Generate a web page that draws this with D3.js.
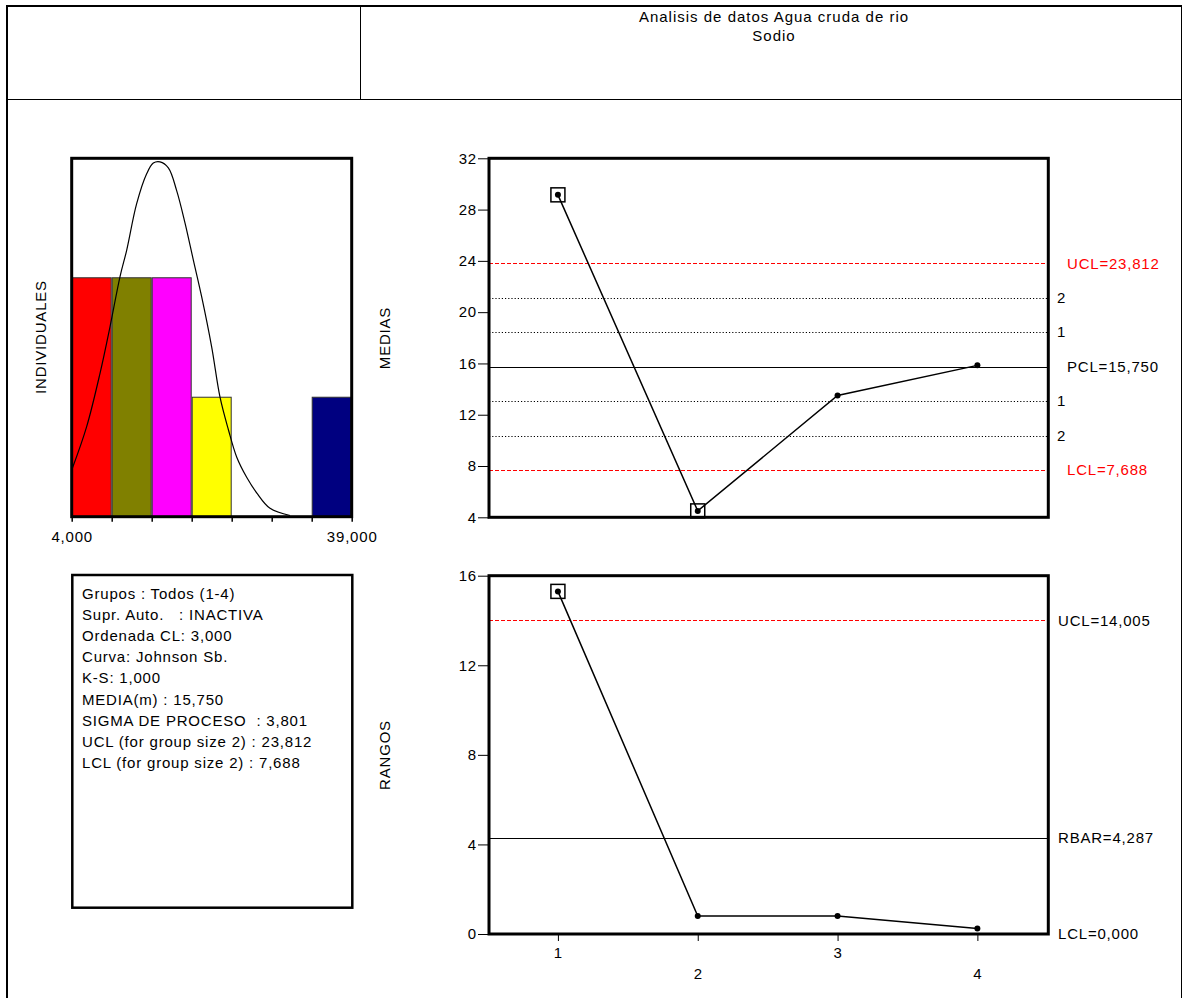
<!DOCTYPE html>
<html>
<head>
<meta charset="utf-8">
<script src="https://cdn.jsdelivr.net/npm/d3@7"></script>
<style>
  body { margin: 0; background: #fff; }
  svg { display: block; font-family: "Liberation Sans", Arial, sans-serif; }
  .lbl { font-size: 15px; letter-spacing: 0.8px; }
  .tick text { font-size: 15px; letter-spacing: 0.8px; font-family: "Liberation Sans", Arial, sans-serif; fill: #000; }
</style>
</head>
<body>
<svg width="1183" height="998"></svg>
<script>
// ---- data ----
const titleLines = ["Analisis de datos Agua cruda de rio", "Sodio"];

// histogram of individuals
const binEdges = [4, 9, 14, 19, 24, 29, 34, 39];
const binCounts = [2, 2, 2, 1, 0, 0, 1];
const binColors = ["#FF0000", "#808000", "#FF00FF", "#FFFF00", "#FFFFFF", "#FFFFFF", "#000080"];
const histEdgeLabels = ["4,000", "", "", "", "", "", "", "39,000"];

// fitted Johnson Sb curve (x in units, y in counts)
const curveX = [4.08, 5.87, 7.54, 8.79, 10.04, 10.87, 12.12, 13.37, 14.2, 15.04, 16.08, 17.12, 18.16,
                19.2, 20.25, 21.5, 22.54, 23.58, 24.62, 25.87, 27.12, 28.79, 31.29];
const curveY = [0.405, 0.754, 1.20, 1.59, 2.01, 2.23, 2.62, 2.87, 2.96, 2.97, 2.92, 2.73, 2.46,
                2.15, 1.84, 1.42, 1.00, 0.73, 0.50, 0.33, 0.20, 0.07, 0.01];

// group means and ranges
const groups = [1, 2, 3, 4];
const means = [29.15, 4.5, 13.5, 15.85];
const ranges = [15.3, 0.8, 0.8, 0.25];

// xbar control lines
const xbarUCL = 23.812, xbarCL = 15.75, xbarLCL = 7.688;
const zoneValues = [21.125, 18.437, 13.063, 10.375];
const zoneLabels = ["2", "1", "1", "2"];
const xbarTicks = [4, 8, 12, 16, 20, 24, 28, 32];

// range control lines
const rUCL = 14.005, rBAR = 4.287, rLCL = 0;
const rangeTicks = [0, 4, 8, 12, 16];

const infoLines = [
  "Grupos : Todos (1-4)",
  "Supr. Auto.   : INACTIVA",
  "Ordenada CL: 3,000",
  "Curva: Johnson Sb.",
  "K-S: 1,000",
  "MEDIA(m) : 15,750",
  "SIGMA DE PROCESO  : 3,801",
  "UCL (for group size 2) : 23,812",
  "LCL (for group size 2) : 7,688"
];

const fmt = v => d3.format(".3f")(v).replace(".", ",");

const svg = d3.select("svg");

// ---- page frame ----
const frame = svg.append("g").attr("stroke", "#000").attr("fill", "none");
frame.append("line").attr("x1", 6).attr("x2", 1182).attr("y1", 6).attr("y2", 6).attr("stroke-width", 2);
frame.append("line").attr("x1", 7).attr("x2", 7).attr("y1", 5).attr("y2", 998).attr("stroke-width", 2);
frame.append("line").attr("x1", 1181.5).attr("x2", 1181.5).attr("y1", 5).attr("y2", 998).attr("stroke-width", 1);
frame.append("line").attr("x1", 7).attr("x2", 1182).attr("y1", 99.5).attr("y2", 99.5).attr("stroke-width", 1);
frame.append("line").attr("x1", 360.5).attr("x2", 360.5).attr("y1", 6).attr("y2", 99).attr("stroke-width", 1);

svg.selectAll("text.title")
  .data(titleLines)
  .enter().append("text")
  .attr("class", "title lbl")
  .attr("x", 774)
  .attr("y", (d, i) => 22 + i * 19)
  .attr("text-anchor", "middle")
  .style("letter-spacing", "1px")
  .text(d => d);

// ---- histogram ----
const hx = d3.scaleLinear().domain([4, 39]).range([71.7, 351.7]);
const hy = d3.scaleLinear().domain([0, 3]).range([516.7, 158.3]);

const hist = svg.append("g");
hist.selectAll("rect.bar")
  .data(binCounts)
  .enter().append("rect")
  .attr("class", "bar")
  .attr("x", (d, i) => hx(binEdges[i]) + 0.5)
  .attr("y", d => hy(d))
  .attr("width", (d, i) => hx(binEdges[i + 1]) - hx(binEdges[i]) - 1)
  .attr("height", d => hy(0) - hy(d))
  .attr("fill", (d, i) => binColors[i])
  .attr("stroke", "#333")
  .attr("stroke-width", d => d > 0 ? 1 : 0);

const curveLine = d3.line()
  .x(d => hx(d[0]))
  .y(d => hy(d[1]))
  .curve(d3.curveCatmullRom);
hist.append("path")
  .datum(curveX.map((x, i) => [x, curveY[i]]))
  .attr("d", curveLine)
  .attr("fill", "none")
  .attr("stroke", "#000")
  .attr("stroke-width", 1.2);

hist.append("rect")
  .attr("x", hx(4)).attr("y", hy(3))
  .attr("width", hx(39) - hx(4)).attr("height", hy(0) - hy(3))
  .attr("fill", "none").attr("stroke", "#000").attr("stroke-width", 3);

const hAxis = hist.append("g")
  .attr("transform", `translate(0,${hy(0)})`)
  .call(d3.axisBottom(hx).tickValues(binEdges).tickSize(5).tickPadding(10)
    .tickFormat((d, i) => histEdgeLabels[i]));
hAxis.select(".domain").remove();
hAxis.selectAll(".tick line").attr("stroke-width", 1.5);

// ---- X-bar chart ----
const gx = d3.scaleLinear().domain([0.5, 4.5]).range([488, 1047.3]);
const my = d3.scaleLinear().domain([4, 32]).range([517.3, 158.3]);
const xb = svg.append("g");

function hline(g, y, x1, x2, color, dash, w) {
  g.append("line")
    .attr("x1", x1).attr("x2", x2).attr("y1", y).attr("y2", y)
    .attr("stroke", color).attr("stroke-width", w || 1)
    .attr("stroke-dasharray", dash || null);
}

zoneValues.forEach(v => hline(xb, Math.round(my(v)) + 0.5, 489, 1048, "#000", "1.2,2"));
hline(xb, Math.round(my(xbarUCL)) + 0.5, 489, 1048, "#FF0000", "4,2");
hline(xb, Math.round(my(xbarLCL)) + 0.5, 489, 1048, "#FF0000", "4,2");
hline(xb, Math.round(my(xbarCL)) + 0.5, 489, 1048, "#000", null, 1.2);

const xbAxis = xb.append("g")
  .attr("transform", "translate(489,0)")
  .call(d3.axisLeft(my).tickValues(xbarTicks).tickSize(11).tickPadding(1));
xbAxis.select(".domain").remove();

function drawSeries(g, xs, ys, vals, outFn) {
  g.append("path")
    .datum(vals)
    .attr("d", d3.line().x((d, i) => xs(groups[i])).y(d => ys(d)))
    .attr("fill", "none").attr("stroke", "#000").attr("stroke-width", 1.5);
  g.selectAll(null)
    .data(vals.filter(outFn).map(v => [groups[vals.indexOf(v)], v]))
    .enter().append("rect")
    .attr("x", d => xs(d[0]) - 7).attr("y", d => ys(d[1]) - 7)
    .attr("width", 14).attr("height", 14)
    .attr("fill", "none").attr("stroke", "#000").attr("stroke-width", 1.5);
  g.selectAll(null)
    .data(vals)
    .enter().append("circle")
    .attr("cx", (d, i) => xs(groups[i])).attr("cy", d => ys(d))
    .attr("r", 3).attr("fill", "#000");
}

drawSeries(xb, gx, my, means, v => v > xbarUCL || v < xbarLCL);

xb.append("rect")
  .attr("x", 489).attr("y", my(32))
  .attr("width", 1048.3 - 489).attr("height", my(4) - my(32))
  .attr("fill", "none").attr("stroke", "#000").attr("stroke-width", 3);

// right labels
xb.append("text").attr("class", "lbl").attr("x", 1067).attr("y", my(xbarUCL)).attr("dy", "0.35em")
  .attr("fill", "#FF0000").text("UCL=" + fmt(xbarUCL));
xb.append("text").attr("class", "lbl").attr("x", 1067).attr("y", my(xbarCL)).attr("dy", "0.35em")
  .text("PCL=" + fmt(xbarCL));
xb.append("text").attr("class", "lbl").attr("x", 1067).attr("y", my(xbarLCL)).attr("dy", "0.35em")
  .attr("fill", "#FF0000").text("LCL=" + fmt(xbarLCL));
xb.selectAll("text.zone")
  .data(zoneValues)
  .enter().append("text")
  .attr("class", "zone lbl")
  .attr("x", 1057).attr("y", d => my(d)).attr("dy", "0.35em")
  .text((d, i) => zoneLabels[i]);

// ---- Range chart ----
const ry = d3.scaleLinear().domain([0, 16]).range([934, 575.7]);
const rg = svg.append("g");

hline(rg, Math.round(ry(rUCL)) + 0.5, 489, 1048, "#FF0000", "4,2");
hline(rg, Math.round(ry(rBAR)) + 0.5, 489, 1048, "#000", null, 1.2);

const rAxis = rg.append("g")
  .attr("transform", "translate(489,0)")
  .call(d3.axisLeft(ry).tickValues(rangeTicks).tickSize(11).tickPadding(1));
rAxis.select(".domain").remove();

const bAxis = rg.append("g")
  .attr("transform", `translate(0,${ry(0)})`)
  .call(d3.axisBottom(gx).tickValues(groups).tickSize(7).tickPadding(6).tickFormat(d3.format("d")));
bAxis.select(".domain").remove();
bAxis.selectAll(".tick text").attr("dy", (d, i) => i % 2 ? "2.1em" : "0.71em");

drawSeries(rg, gx, ry, ranges, v => v > rUCL);

rg.append("rect")
  .attr("x", 489).attr("y", ry(16))
  .attr("width", 1048.3 - 489).attr("height", ry(0) - ry(16))
  .attr("fill", "none").attr("stroke", "#000").attr("stroke-width", 3);

rg.append("text").attr("class", "lbl").attr("x", 1058).attr("y", ry(rUCL)).attr("dy", "0.35em")
  .text("UCL=" + fmt(rUCL));
rg.append("text").attr("class", "lbl").attr("x", 1058).attr("y", ry(rBAR)).attr("dy", "0.35em")
  .text("RBAR=" + fmt(rBAR));
rg.append("text").attr("class", "lbl").attr("x", 1058).attr("y", ry(rLCL)).attr("dy", "0.35em")
  .text("LCL=" + fmt(rLCL));

// ---- axis titles ----
const axisTitles = [
  { text: "INDIVIDUALES", x: 41, y: 337 },
  { text: "MEDIAS", x: 385, y: 338 },
  { text: "RANGOS", x: 385, y: 755 }
];
svg.selectAll("text.atitle")
  .data(axisTitles)
  .enter().append("text")
  .attr("class", "atitle lbl")
  .attr("transform", d => `translate(${d.x},${d.y}) rotate(-90)`)
  .attr("text-anchor", "middle")
  .attr("dy", "0.35em")
  .text(d => d.text);

// ---- info box ----
svg.append("rect")
  .attr("x", 72.3).attr("y", 575)
  .attr("width", 280).attr("height", 332.7)
  .attr("fill", "none").attr("stroke", "#000").attr("stroke-width", 2.5);
svg.selectAll("text.info")
  .data(infoLines)
  .enter().append("text")
  .attr("class", "info lbl")
  .attr("x", 82)
  .attr("y", (d, i) => 599 + i * 21.1)
  .attr("xml:space", "preserve")
  .style("white-space", "pre")
  .text(d => d);
</script>
</body>
</html>
